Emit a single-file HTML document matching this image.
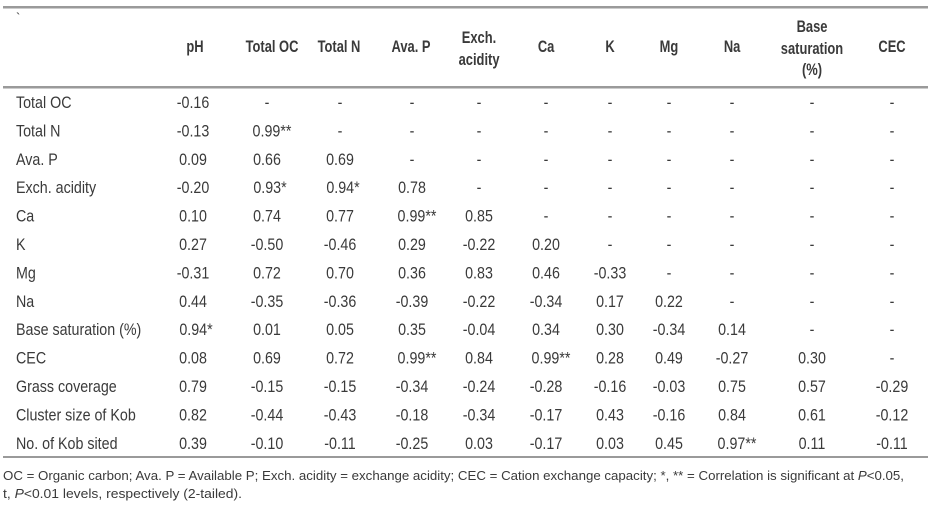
<!DOCTYPE html>
<html><head><meta charset="utf-8"><style>
html,body{margin:0;padding:0;background:#fff}
svg{display:block}
text{font-family:"Liberation Sans",sans-serif;fill:#3a3a3a}
.h{font-weight:bold;font-size:17px;text-anchor:middle;transform-box:fill-box;transform-origin:center;transform:scaleX(.76)}
.v{font-size:17px;text-anchor:middle;transform-box:fill-box;transform-origin:center;transform:scaleX(.84)}
.l{font-size:17px;transform-box:fill-box;transform-origin:left;transform:scaleX(.84)}
.f{font-size:13px}
</style></head><body>
<svg width="933" height="505" viewBox="0 0 933 505">
<rect x="3" y="6" width="925" height="2.5" fill="#9a9a9a"/>
<rect x="3" y="86" width="925" height="2.5" fill="#9a9a9a"/>
<rect x="3" y="456" width="925" height="2" fill="#9a9a9a"/>
<text x="16" y="22" font-size="13">`</text>
<text class="h" x="195" y="52">pH</text>
<text class="h" x="272" y="52">Total OC</text>
<text class="h" x="339" y="52">Total N</text>
<text class="h" x="411" y="52">Ava. P</text>
<text class="h" x="479" y="43">Exch.</text>
<text class="h" x="479" y="65">acidity</text>
<text class="h" x="546" y="52">Ca</text>
<text class="h" x="610" y="52">K</text>
<text class="h" x="669" y="52">Mg</text>
<text class="h" x="732" y="52">Na</text>
<text class="h" x="812" y="32">Base</text>
<text class="h" x="812" y="54">saturation</text>
<text class="h" x="812" y="75">(%)</text>
<text class="h" x="892" y="52">CEC</text>

<g transform="translate(0,-2)">
<text class="l" x="16" y="110">Total OC</text>
<text class="v" x="193" y="110">-0.16</text><text class="v" x="267" y="110">-</text><text class="v" x="340" y="110">-</text><text class="v" x="412" y="110">-</text><text class="v" x="479" y="110">-</text><text class="v" x="546" y="110">-</text><text class="v" x="610" y="110">-</text><text class="v" x="669" y="110">-</text><text class="v" x="732" y="110">-</text><text class="v" x="812" y="110">-</text><text class="v" x="892" y="110">-</text>

<text class="l" x="16" y="138.4">Total N</text>
<text class="v" x="193" y="138.4">-0.13</text><text class="v" x="272" y="138.4">0.99**</text><text class="v" x="340" y="138.4">-</text><text class="v" x="412" y="138.4">-</text><text class="v" x="479" y="138.4">-</text><text class="v" x="546" y="138.4">-</text><text class="v" x="610" y="138.4">-</text><text class="v" x="669" y="138.4">-</text><text class="v" x="732" y="138.4">-</text><text class="v" x="812" y="138.4">-</text><text class="v" x="892" y="138.4">-</text>

<text class="l" x="16" y="166.8">Ava. P</text>
<text class="v" x="193" y="166.8">0.09</text><text class="v" x="267" y="166.8">0.66</text><text class="v" x="340" y="166.8">0.69</text><text class="v" x="412" y="166.8">-</text><text class="v" x="479" y="166.8">-</text><text class="v" x="546" y="166.8">-</text><text class="v" x="610" y="166.8">-</text><text class="v" x="669" y="166.8">-</text><text class="v" x="732" y="166.8">-</text><text class="v" x="812" y="166.8">-</text><text class="v" x="892" y="166.8">-</text>

<text class="l" x="16" y="195.2">Exch. acidity</text>
<text class="v" x="193" y="195.2">-0.20</text><text class="v" x="270" y="195.2">0.93*</text><text class="v" x="343" y="195.2">0.94*</text><text class="v" x="412" y="195.2">0.78</text><text class="v" x="479" y="195.2">-</text><text class="v" x="546" y="195.2">-</text><text class="v" x="610" y="195.2">-</text><text class="v" x="669" y="195.2">-</text><text class="v" x="732" y="195.2">-</text><text class="v" x="812" y="195.2">-</text><text class="v" x="892" y="195.2">-</text>

<text class="l" x="16" y="223.6">Ca</text>
<text class="v" x="193" y="223.6">0.10</text><text class="v" x="267" y="223.6">0.74</text><text class="v" x="340" y="223.6">0.77</text><text class="v" x="417" y="223.6">0.99**</text><text class="v" x="479" y="223.6">0.85</text><text class="v" x="546" y="223.6">-</text><text class="v" x="610" y="223.6">-</text><text class="v" x="669" y="223.6">-</text><text class="v" x="732" y="223.6">-</text><text class="v" x="812" y="223.6">-</text><text class="v" x="892" y="223.6">-</text>

<text class="l" x="16" y="252">K</text>
<text class="v" x="193" y="252">0.27</text><text class="v" x="267" y="252">-0.50</text><text class="v" x="340" y="252">-0.46</text><text class="v" x="412" y="252">0.29</text><text class="v" x="479" y="252">-0.22</text><text class="v" x="546" y="252">0.20</text><text class="v" x="610" y="252">-</text><text class="v" x="669" y="252">-</text><text class="v" x="732" y="252">-</text><text class="v" x="812" y="252">-</text><text class="v" x="892" y="252">-</text>

<text class="l" x="16" y="280.4">Mg</text>
<text class="v" x="193" y="280.4">-0.31</text><text class="v" x="267" y="280.4">0.72</text><text class="v" x="340" y="280.4">0.70</text><text class="v" x="412" y="280.4">0.36</text><text class="v" x="479" y="280.4">0.83</text><text class="v" x="546" y="280.4">0.46</text><text class="v" x="610" y="280.4">-0.33</text><text class="v" x="669" y="280.4">-</text><text class="v" x="732" y="280.4">-</text><text class="v" x="812" y="280.4">-</text><text class="v" x="892" y="280.4">-</text>

<text class="l" x="16" y="308.8">Na</text>
<text class="v" x="193" y="308.8">0.44</text><text class="v" x="267" y="308.8">-0.35</text><text class="v" x="340" y="308.8">-0.36</text><text class="v" x="412" y="308.8">-0.39</text><text class="v" x="479" y="308.8">-0.22</text><text class="v" x="546" y="308.8">-0.34</text><text class="v" x="610" y="308.8">0.17</text><text class="v" x="669" y="308.8">0.22</text><text class="v" x="732" y="308.8">-</text><text class="v" x="812" y="308.8">-</text><text class="v" x="892" y="308.8">-</text>

<text class="l" x="16" y="337.2">Base saturation (%)</text>
<text class="v" x="196" y="337.2">0.94*</text><text class="v" x="267" y="337.2">0.01</text><text class="v" x="340" y="337.2">0.05</text><text class="v" x="412" y="337.2">0.35</text><text class="v" x="479" y="337.2">-0.04</text><text class="v" x="546" y="337.2">0.34</text><text class="v" x="610" y="337.2">0.30</text><text class="v" x="669" y="337.2">-0.34</text><text class="v" x="732" y="337.2">0.14</text><text class="v" x="812" y="337.2">-</text><text class="v" x="892" y="337.2">-</text>

<text class="l" x="16" y="365.6">CEC</text>
<text class="v" x="193" y="365.6">0.08</text><text class="v" x="267" y="365.6">0.69</text><text class="v" x="340" y="365.6">0.72</text><text class="v" x="417" y="365.6">0.99**</text><text class="v" x="479" y="365.6">0.84</text><text class="v" x="551" y="365.6">0.99**</text><text class="v" x="610" y="365.6">0.28</text><text class="v" x="669" y="365.6">0.49</text><text class="v" x="732" y="365.6">-0.27</text><text class="v" x="812" y="365.6">0.30</text><text class="v" x="892" y="365.6">-</text>

<text class="l" x="16" y="394">Grass coverage</text>
<text class="v" x="193" y="394">0.79</text><text class="v" x="267" y="394">-0.15</text><text class="v" x="340" y="394">-0.15</text><text class="v" x="412" y="394">-0.34</text><text class="v" x="479" y="394">-0.24</text><text class="v" x="546" y="394">-0.28</text><text class="v" x="610" y="394">-0.16</text><text class="v" x="669" y="394">-0.03</text><text class="v" x="732" y="394">0.75</text><text class="v" x="812" y="394">0.57</text><text class="v" x="892" y="394">-0.29</text>

<text class="l" x="16" y="422.4">Cluster size of Kob</text>
<text class="v" x="193" y="422.4">0.82</text><text class="v" x="267" y="422.4">-0.44</text><text class="v" x="340" y="422.4">-0.43</text><text class="v" x="412" y="422.4">-0.18</text><text class="v" x="479" y="422.4">-0.34</text><text class="v" x="546" y="422.4">-0.17</text><text class="v" x="610" y="422.4">0.43</text><text class="v" x="669" y="422.4">-0.16</text><text class="v" x="732" y="422.4">0.84</text><text class="v" x="812" y="422.4">0.61</text><text class="v" x="892" y="422.4">-0.12</text>

<text class="l" x="16" y="450.8">No. of Kob sited</text>
<text class="v" x="193" y="450.8">0.39</text><text class="v" x="267" y="450.8">-0.10</text><text class="v" x="340" y="450.8">-0.11</text><text class="v" x="412" y="450.8">-0.25</text><text class="v" x="479" y="450.8">0.03</text><text class="v" x="546" y="450.8">-0.17</text><text class="v" x="610" y="450.8">0.03</text><text class="v" x="669" y="450.8">0.45</text><text class="v" x="737" y="450.8">0.97**</text><text class="v" x="812" y="450.8">0.11</text><text class="v" x="892" y="450.8">-0.11</text>
</g>

<text class="f" x="3" y="480" textLength="901" lengthAdjust="spacingAndGlyphs">OC = Organic carbon; Ava. P = Available P; Exch. acidity = exchange acidity; CEC = Cation exchange capacity; *, ** = Correlation is significant at <tspan font-style="italic">P</tspan>&lt;0.05,</text>
<text class="f" x="3" y="498" textLength="239" lengthAdjust="spacingAndGlyphs">t, <tspan font-style="italic">P</tspan>&lt;0.01 levels, respectively (2-tailed).</text>
</svg>
</body></html>
